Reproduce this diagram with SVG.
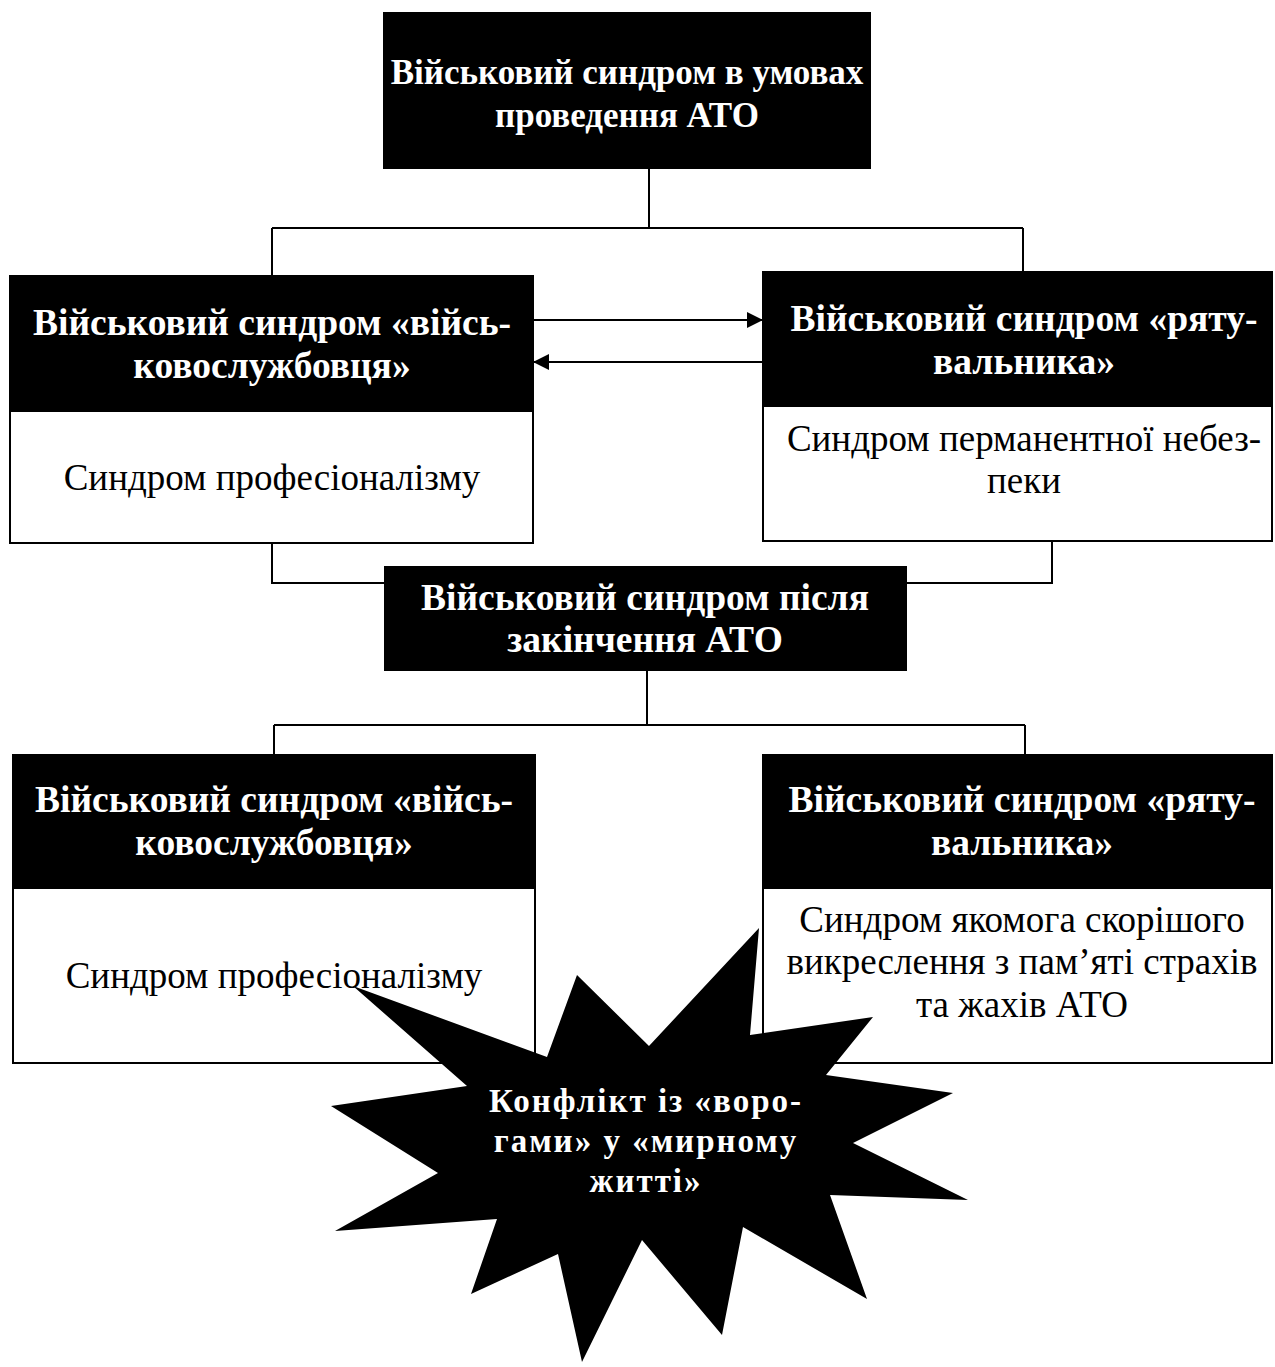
<svg xmlns="http://www.w3.org/2000/svg" width="1275" height="1367" viewBox="0 0 1275 1367">
<style>
.hdr{fill:#000}
.box{fill:#fff;stroke:#000;stroke-width:2}
.tb{font-family:"Liberation Serif","Times New Roman",serif;font-weight:bold;font-size:37.5px;fill:#fff;text-anchor:middle}
.tt{font-family:"Liberation Serif","Times New Roman",serif;font-weight:bold;font-size:35px;fill:#fff;text-anchor:middle}
.tr{font-family:"Liberation Serif","Times New Roman",serif;font-size:37px;fill:#000;text-anchor:middle}
.ts{font-family:"Liberation Serif","Times New Roman",serif;font-weight:bold;font-size:33px;fill:#fff;text-anchor:middle;letter-spacing:2px}
.con{fill:none;stroke:#000;stroke-width:2}
</style>
<defs>
<marker id="ah" markerUnits="userSpaceOnUse" markerWidth="16" markerHeight="16" refX="16" refY="8" orient="auto">
<path d="M0,0 L16,8 L0,16 Z" fill="#000"/>
</marker>
</defs>
<g id="connectors">
<path class="con" d="M649,169 V228 M272,228 H1023 M272,228 V276 M1023,228 V272"/>
<path class="con" d="M272,543 V583 H384 M1052,541 V583 H907"/>
<path class="con" d="M647,671 V725 M274,725 H1025 M274,725 V755 M1025,725 V755"/>
<line class="con" x1="533" y1="320" x2="763" y2="320" marker-end="url(#ah)"/>
<line class="con" x1="763" y1="362" x2="533" y2="362" marker-end="url(#ah)"/>
</g>
<g id="top">
<rect class="hdr" x="383" y="12" width="488" height="157"/>
<text class="tt" x="627" y="84">Військовий синдром в умовах</text>
<text class="tt" x="627" y="127">проведення АТО</text>
</g>
<g id="left1">
<rect class="box" x="10" y="276" width="523" height="267"/>
<rect class="hdr" x="10" y="276" width="523" height="136"/>
<text class="tb" x="272" y="335">Військовий синдром «війсь-</text>
<text class="tb" x="272" y="378">ковослужбовця»</text>
<text class="tr" x="272" y="490">Синдром професіоналізму</text>
</g>
<g id="right1">
<rect class="box" x="763" y="272" width="509" height="269"/>
<rect class="hdr" x="763" y="272" width="509" height="135"/>
<text class="tb" x="1024" y="331">Військовий синдром «ряту-</text>
<text class="tb" x="1024" y="374">вальника»</text>
<text class="tr" x="1024" y="451">Синдром перманентної небез-</text>
<text class="tr" x="1024" y="493">пеки</text>
</g>
<g id="middle">
<rect class="hdr" x="384" y="566" width="523" height="105"/>
<text class="tb" x="645" y="610">Військовий синдром після</text>
<text class="tb" x="645" y="652">закінчення АТО</text>
</g>
<g id="left2">
<rect class="box" x="13" y="755" width="522" height="308"/>
<rect class="hdr" x="13" y="755" width="522" height="134"/>
<text class="tb" x="274" y="812">Військовий синдром «війсь-</text>
<text class="tb" x="274" y="855">ковослужбовця»</text>
<text class="tr" x="274" y="988">Синдром професіоналізму</text>
</g>
<g id="right2">
<rect class="box" x="763" y="755" width="509" height="308"/>
<rect class="hdr" x="763" y="755" width="509" height="134"/>
<text class="tb" x="1022" y="812">Військовий синдром «ряту-</text>
<text class="tb" x="1022" y="855">вальника»</text>
<text class="tr" x="1022" y="932">Синдром якомога скорішого</text>
<text class="tr" x="1022" y="974">викреслення з пам’яті страхів</text>
<text class="tr" x="1022" y="1017">та жахів АТО</text>
</g>
<g id="conflict">
<polygon fill="#000" points="759,928 750,1035 873,1017 826,1075 953,1093 853,1143 968,1200 830,1195 867,1299 743,1227 722,1335 642,1240 582,1362 558,1254 471,1294 497,1219 335,1231 438,1173 331,1106 467,1086 353,986 547,1057 577,975 649,1046"/>
<text class="ts" x="646" y="1112">Конфлікт із «воро-</text>
<text class="ts" x="646" y="1152">гами» у «мирному</text>
<text class="ts" x="646" y="1192">житті»</text>
</g>
</svg>
